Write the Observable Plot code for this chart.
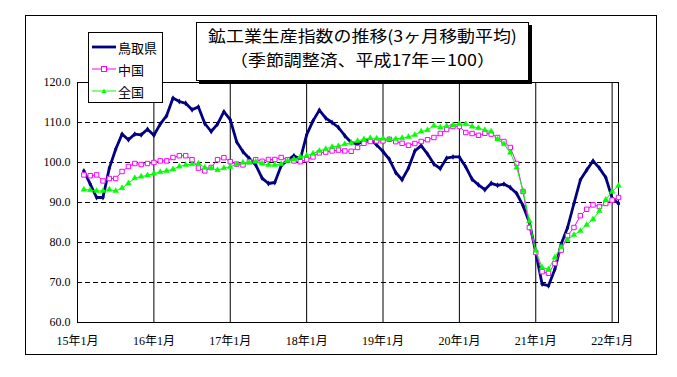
<!DOCTYPE html>
<html>
<head>
<meta charset="utf-8">
<script src="https://cdn.jsdelivr.net/npm/d3@7"></script>
<script src="https://cdn.jsdelivr.net/npm/@observablehq/plot@0.6"></script>
<style>
  body { margin: 0; background: #fff; }
  #wrap { position: relative; width: 677px; height: 377px; overflow: hidden; }
  #outer { position: absolute; left: 25px; top: 15px; width: 632px; height: 340px; border: 1px solid #000; box-sizing: border-box; pointer-events: none; }
  #chart { position: absolute; left: 0; top: 0; }
  #title { position: absolute; left: 196px; top: 22px; width: 333px; height: 59px; border: 1px solid #000; background: #fff;
           box-shadow: 3px 3px 0 #000; box-sizing: border-box; text-align: center; white-space: nowrap;
           font-family: "Noto Sans CJK JP", sans-serif; font-size: 16px; color: #000; padding-top: 0px; }
  #title div { height: 24px; line-height: 24px; transform: scaleX(1.12); }
  #legend { position: absolute; left: 88px; top: 32px; width: 75px; height: 71px; border: 1px solid #000; background: #fff; box-sizing: border-box;
            font-family: "Noto Sans CJK JP", sans-serif; font-size: 13px; color: #000; padding-top: 3px; }
  .row { height: 22px; display: flex; align-items: center; }
  .row svg { margin-left: 3px; margin-right: 2px; }
</style>
</head>
<body>
<div id="wrap">
  <div id="chart"></div>
  <div id="outer"></div>
  <div id="title"><div>鉱工業生産指数の推移(3ヶ月移動平均)</div><div>（季節調整済、平成17年＝100）</div></div>
  <div id="legend"></div>
</div>
<script>
// month index: 0 = 15年1月 ... 85 = 22年2月 ; data from 15年2月 (index 1)
const startIndex = 1;
const seriesNames = ["鳥取県", "中国", "全国"];
const tottori = [97.9,94.6,91.25,91.25,98.6,103.3,107.1,105.7,107.1,106.9,108.3,106.8,109.6,111.7,116.1,115.25,114.8,113.2,113.9,109.75,107.75,109.6,112.7,110.7,105.2,102.7,101.0,99.4,96.1,94.75,95.0,99.2,100.6,101.7,100.8,106.9,110.4,113.1,111.1,110.0,108.75,106.7,105.0,104.6,105.4,105.8,104.4,102.75,100.8,97.5,95.7,98.6,102.9,104.2,102.1,99.6,98.5,101.1,101.4,101.4,98.9,95.8,94.4,93.2,94.8,94.3,94.6,93.75,92.25,89.2,85.0,77.5,69.6,69.2,73.3,79.6,83.75,89.75,95.6,98.1,100.4,98.6,96.25,91.1,89.75];
const chugoku = [96.9,96.7,96.9,95.4,96.0,96.0,97.75,99.0,99.75,99.5,99.75,100.0,100.4,100.4,101.25,101.7,101.7,100.7,98.6,97.9,98.75,100.7,101.2,100.2,99.6,99.4,100.2,100.7,100.3,100.75,100.75,101.25,100.7,100.4,100.2,100.7,101.4,102.4,102.6,102.9,103.1,102.9,102.8,103.75,104.8,105.25,105.4,105.4,105.8,105.2,104.8,104.3,104.75,105.25,105.7,106.25,107.25,108.25,109.0,109.0,107.5,107.25,106.8,107.3,107.1,106.25,105.25,103.75,99.75,92.75,83.75,77.5,72.7,72.3,74.75,78.1,81.7,83.75,86.7,88.3,89.4,89.0,89.75,90.6,91.25];
const zenkoku = [93.25,93.1,92.9,92.9,93.25,92.9,93.6,94.8,96.1,96.5,96.8,97.25,97.6,97.9,98.3,99.0,99.4,99.6,99.75,98.75,98.6,98.1,98.6,98.9,99.6,100.0,100.0,100.2,99.75,99.4,99.4,99.6,100.4,100.8,101.4,101.7,102.25,102.9,103.4,103.9,104.1,104.6,104.9,105.4,105.8,106.1,106.0,106.0,105.8,105.9,106.1,106.4,106.9,107.75,108.1,109.2,108.75,109.1,109.3,109.6,109.6,109.0,108.6,108.1,107.75,105.8,104.6,102.5,98.75,92.9,85.4,78.0,73.75,73.3,76.25,78.9,80.6,81.9,82.9,84.4,85.8,87.9,90.7,92.75,94.2];
const xTickLabels = ["15年1月","16年1月","17年1月","18年1月","19年1月","20年1月","21年1月","22年1月"];
const yTicks = [60,70,80,90,100,110,120];

const toRows = arr => arr.map((v, k) => ({i: k + startIndex, v}));
const rT = toRows(tottori), rC = toRows(chugoku), rZ = toRows(zenkoku);
const xTicks = xTickLabels.map((label, k) => ({i: k * 12, label}));
const lastIndex = startIndex + tottori.length - 1;

const navy = "#000080", magenta = "#ff00ff", lime = "#00ff00";
const serif = "'Liberation Serif', 'Noto Sans CJK JP', serif";

const chart = Plot.plot({
  width: 677, height: 377,
  marginLeft: 77, marginRight: 59, marginTop: 82, marginBottom: 55,
  x: {domain: [0, lastIndex], axis: null},
  y: {domain: [60, 120], axis: null},
  style: {background: "transparent"},
  marks: [
    Plot.ruleY(yTicks.filter(d => d > 60 && d < 120), {stroke: "#000", strokeWidth: 1, strokeDasharray: "5,3"}),
    Plot.ruleX(xTicks.filter(d => d.i > 0), {x: "i", stroke: "#000", strokeWidth: 1}),
    Plot.frame({stroke: "#000", strokeWidth: 1}),
    Plot.text(yTicks, {x: 0, y: d => d, text: d => d.toFixed(1), textAnchor: "end", dx: -7, fontSize: 12, fontFamily: serif, fill: "#000", style: {letterSpacing: "1px"}}),
    Plot.text(xTicks, {x: "i", y: 60, text: "label", dy: 19, fontSize: 12, fontFamily: serif, fill: "#000"}),
    Plot.line(rT, {x: "i", y: "v", stroke: navy, strokeWidth: 2.8}),
    Plot.dot(rT, {x: "i", y: "v", symbol: "diamond", r: 1.8, fill: navy}),
    Plot.line(rC, {x: "i", y: "v", stroke: magenta, strokeWidth: 1}),
    Plot.dot(rC, {x: "i", y: "v", symbol: "square", r: 2.5, fill: "#fff", stroke: magenta, strokeWidth: 1}),
    Plot.line(rZ, {x: "i", y: "v", stroke: lime, strokeWidth: 1}),
    Plot.dot(rZ, {x: "i", y: "v", symbol: "triangle", r: 2.1, fill: lime, stroke: lime, strokeWidth: 0.5})
  ]
});
document.getElementById("chart").appendChild(chart);

// legend
const legend = d3.select("#legend");
const styles = [
  {c: navy, w: 2.8, m: "none"},
  {c: magenta, w: 1, m: "square"},
  {c: lime, w: 1, m: "triangle"}
];
seriesNames.forEach((name, k) => {
  const row = legend.append("div").attr("class", "row");
  const s = row.append("svg").attr("width", 24).attr("height", 12);
  const st = styles[k];
  s.append("line").attr("x1", 0).attr("x2", 24).attr("y1", 6).attr("y2", 6).attr("stroke", st.c).attr("stroke-width", st.w);
  if (st.m === "square") s.append("rect").attr("x", 9.5).attr("y", 3.5).attr("width", 5).attr("height", 5).attr("fill", "#fff").attr("stroke", st.c);
  if (st.m === "triangle") s.append("path").attr("d", "M12,3.5L14.5,8L9.5,8Z").attr("fill", st.c);
  row.append("span").text(name);
});
</script>
</body>
</html>
